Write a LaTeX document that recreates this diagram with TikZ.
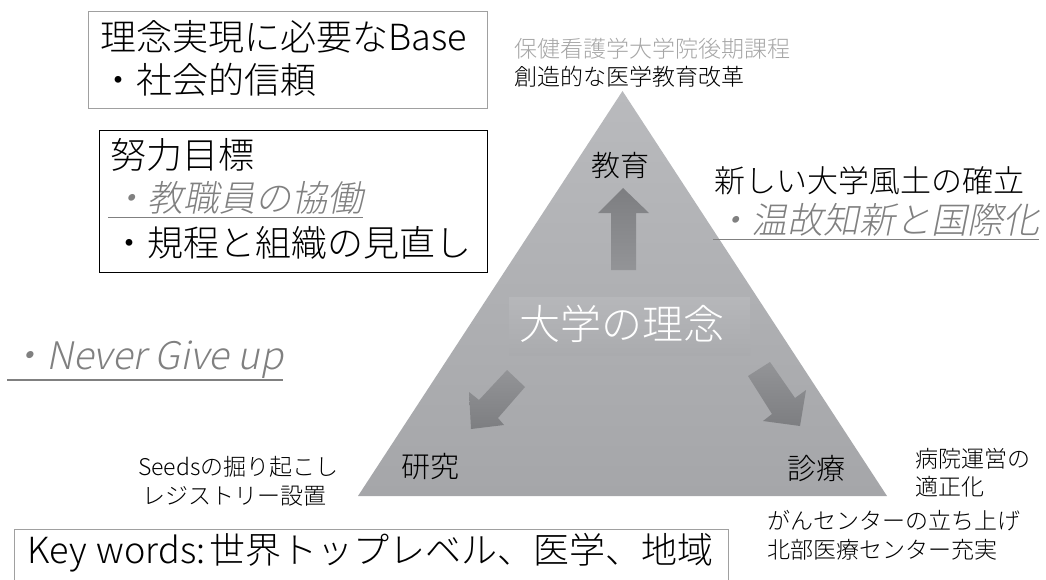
\documentclass[tikz,border=0pt]{standalone}
\usepackage{fontspec}
\setmainfont{Noto Sans CJK JP}[UprightFont={* Light}]
\newfontfamily\cjkit{Noto Sans CJK JP}[UprightFont={* Light}, FakeSlant=0.2]
\usetikzlibrary{calc}
\definecolor{tritop}{HTML}{B9BABD}
\definecolor{tribot}{HTML}{A5A6A9}
\definecolor{phtop}{HTML}{B6B7BA}
\definecolor{phbot}{HTML}{AAABAE}
\definecolor{arrdark}{HTML}{7D7E81}
\definecolor{arrlight}{HTML}{939497}
\definecolor{boxgray}{HTML}{A0A0A0}
\definecolor{itgray}{HTML}{808080}
\definecolor{lightgray}{HTML}{A6A6A6}
\begin{document}
\begin{tikzpicture}[x=1pt,y=-1pt,
  txt/.style={inner sep=0pt, anchor=west, text=black},
  fs/.style={font=\fontsize{#1}{#1}\selectfont},
  fsi/.style={font=\cjkit\fontsize{#1}{#1}\selectfont, text=itgray},
  frame/.style={draw=#1, line width=1pt, inner sep=0pt, anchor=north west, fill=none},
  uline/.style={draw=itgray, line width=1.4pt},
]
\useasboundingbox (0,0) rectangle (1046,580);
\clip (0,0) rectangle (1046,580);

% triangle
\coordinate (apex) at (622.5,91);
\coordinate (bl) at (358,496);
\coordinate (br) at (887,496);
\shade[top color=tritop, bottom color=tribot] (apex) -- (br) -- (bl) -- cycle;

% philosophy box
\node[inner sep=0pt, minimum width=241, minimum height=58, anchor=north west,
      top color=phtop, bottom color=phbot] (philbox) at (509,297) {};
\node[txt, anchor=center, fs=41, text=white] (phil) at (622,324) {大学の理念};

% arrows
\shade[top color=arrdark, bottom color=arrlight]
  (611,270) -- (611,213) -- (598,213) -- (623,188) -- (649,213) -- (636,213) -- (636,270) -- cycle;
\shade[top color=arrlight, bottom color=arrdark]
  (507,370) -- (525,387) -- (498,418) -- (504,425) -- (471,429) -- (469,392) -- (479,400) -- cycle;
\shade[top color=arrlight, bottom color=arrdark]
  (748,376) -- (770,362) -- (795,398) -- (806,390) -- (800,426) -- (763,421) -- (772,414) -- cycle;

% vertex labels
\node[txt, anchor=center, fs=29] (edu) at (620,165) {教育};
\node[txt, anchor=center, fs=29] (res) at (430,467) {研究};
\node[txt, anchor=center, fs=29] (med) at (816,469) {診療};

% box 1
\node[frame=boxgray, minimum width=399, minimum height=97] (box1) at (88,11) {};
\node[txt, fs=36] (b1a) at (100,37) {理念実現に必要なBase};
\node[txt, fs=36] (b1b) at (100,80) {・社会的信頼};

% box 2
\node[frame=black, minimum width=388, minimum height=142] (box2) at (99,130) {};
\node[txt, fs=36] (b2a) at (110,155) {努力目標};
\node[txt, fsi=36] (b2b) at (111,198) {・教職員の協働};
\node[txt, fs=36] (b2c) at (111,243) {・規程と組織の見直し};
\draw[uline] ($(b2b.south west)+(-3,3)$) -- ($(b2b.south east)+(0,3)$);

% never give up
\node[txt, fsi=38] (nev) at (8,360) {・Never Give up};
\draw[uline] ($(nev.south west)+(-1,1)$) -- ($(nev.south east)+(0,1)$);

% top right
\node[txt, fs=23, text=lightgray] (h1) at (514,49) {保健看護学大学院後期課程};
\node[txt, fs=23] (h2) at (514,77) {創造的な医学教育改革};
\node[txt, fs=31] (n1) at (714,181) {新しい大学風土の確立};
\node[txt, fsi=36] (n2) at (715,220) {・温故知新と国際化};
\draw[uline] ($(n2.south west)+(-2,3)$) -- ($(n2.south east)+(0,3)$);

% lower labels
\node[txt, fs=23] (s1) at (138,467) {Seedsの掘り起こし};
\node[txt, fs=23] (s2) at (142,496) {レジストリー設置};
\node[txt, fs=23] (p1) at (915,459) {病院運営の};
\node[txt, fs=23] (p2) at (915,487) {適正化};
\node[txt, fs=23] (c1) at (767,521) {がんセンターの立ち上げ};
\node[txt, fs=23] (c2) at (767,550) {北部医療センター充実};

% key words
\node[frame=boxgray, minimum width=714, minimum height=70] (kwbox) at (14,529) {};
\node[txt, fs=36] (kw) at (27,553) {Key\hspace{2pt} words:\hspace{4pt}世界トップレベル、医学、地域};
\end{tikzpicture}
\end{document}
